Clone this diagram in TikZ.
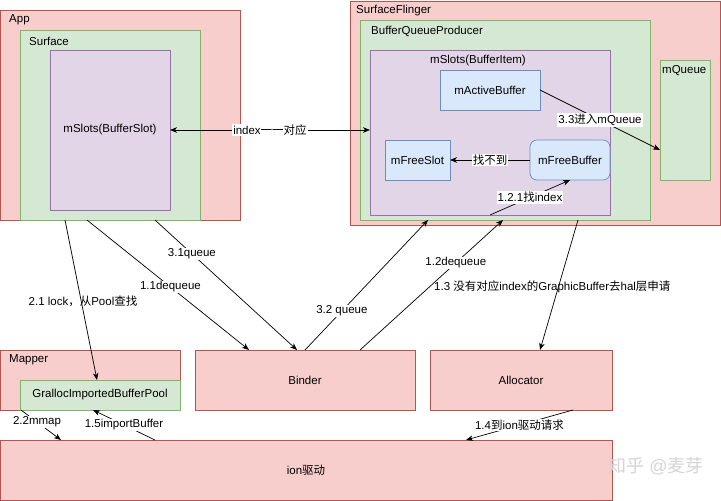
\documentclass[tikz,border=0pt]{standalone}
\usepackage{fontspec}
\setmainfont{Liberation Sans}
\newfontfamily\zh{Noto Sans CJK SC}
\usetikzlibrary{arrows.meta,calc}
\definecolor{rf}{HTML}{F8CECC}
\definecolor{rs}{HTML}{B85450}
\definecolor{gf}{HTML}{D5E8D4}
\definecolor{gs}{HTML}{82B366}
\definecolor{pf}{HTML}{E1D5E7}
\definecolor{ps}{HTML}{9673A6}
\definecolor{bf}{HTML}{DAE8FC}
\definecolor{bs}{HTML}{6C8EBF}
\begin{document}
\begin{tikzpicture}[x=1pt,y=-1pt,
  font=\fontsize{11.5}{13}\selectfont,
  box/.style={draw, line width=0.7pt, inner sep=0pt, outer sep=0pt, anchor=north west},
  redbox/.style={box, fill=rf, draw=rs},
  greenbox/.style={box, fill=gf, draw=gs},
  purplebox/.style={box, fill=pf, draw=ps},
  bluebox/.style={box, fill=bf, draw=bs},
  ttl/.style={anchor=west, inner sep=0pt},
  arr/.style={-{Stealth[length=7pt,width=5.5pt,inset=2pt]}, line width=0.7pt},
  lbl/.style={fill=white, inner sep=1pt}]
\useasboundingbox (0,0) rectangle (721,501);

% App side
\node[redbox, minimum width=240pt, minimum height=210pt] (app) at (0,10) {};
\node[ttl] (appt) at (9,20) {App};
\node[greenbox, minimum width=180pt, minimum height=190pt] (surface) at (20,30) {};
\node[ttl] (surfacet) at (29,41) {Surface};
\node[purplebox, minimum width=120pt, minimum height=160pt] (bslot) at (50,50) {};
\node (bslott) at (110,130) {mSlots(BufferSlot)};

% SurfaceFlinger side
\node[redbox, minimum width=370pt, minimum height=224pt] (sf) at (350,1) {};
\node[ttl] (sft) at (356,11) {SurfaceFlinger};
\node[greenbox, minimum width=290pt, minimum height=200pt] (bqp) at (360,20) {};
\node[ttl] (bqpt) at (371,31) {BufferQueueProducer};
\node[purplebox, minimum width=240pt, minimum height=165pt] (bitem) at (370,50) {};
\node (bitemt) at (478,61) {mSlots(BufferItem)};
\node[bluebox, minimum width=100pt, minimum height=40pt] (active) at (440,70) {};
\node (activet) at (490,90) {mActiveBuffer};
\node[bluebox, minimum width=65pt, minimum height=40pt] (freeslot) at (385,140) {};
\node (freeslott) at (417.5,160) {mFreeSlot};
\node[bluebox, rounded corners=7pt, minimum width=80pt, minimum height=40pt] (freebuf) at (530,140) {};
\node (freebuft) at (570,160) {mFreeBuffer};
\node[greenbox, minimum width=50pt, minimum height=120pt] (mqueue) at (660,60) {};
\node[ttl] (mqueuet) at (662,71) {mQueue};

% bottom boxes
\node[redbox, minimum width=180pt, minimum height=60pt] (mapper) at (0,350) {};
\node[ttl] (mappert) at (9,360) {Mapper};
\node[greenbox, minimum width=160pt, minimum height=30pt] (gralloc) at (20,380) {};
\node (grallott) at (100,395) {GrallocImportedBufferPool};
\node[redbox, minimum width=220pt, minimum height=60pt] (binder) at (195,350) {};
\node (bindert) at (305,380) {Binder};
\node[redbox, minimum width=182pt, minimum height=60pt] (alloc) at (430,350) {};
\node (alloct) at (521,380) {Allocator};
\node[redbox, minimum width=612pt, minimum height=60pt] (ion) at (0,440) {};
\node (iont) at (306,470) {ion{\zh 驱动}};

% watermark
\node[text=black!17, font=\fontsize{18}{20}\selectfont] (wm) at (656,466) {{\zh 知乎} @{\zh 麦芽}};

% connectors inside SurfaceFlinger
\draw[{Stealth[length=7pt,width=5.5pt,inset=2pt]}-{Stealth[length=7pt,width=5.5pt,inset=2pt]}, line width=0.7pt]
  (bslot.east) -- (bslot.east -| bitem.west)
  node[lbl, midway] {index{\zh 一一对应}};
\draw[arr] (active.east) -- ($(mqueue.north west)!0.75!(mqueue.south west)$)
  node[lbl, pos=0.5] {3.3{\zh 进入}mQueue};
\draw[arr] (freebuf.west) -- (freeslot.east)
  node[lbl, midway] {{\zh 找不到}};
\coordinate (c121) at ($(bitem.south west)+(120,0)$);
\coordinate (c121e) at ($(freebuf.south west)+(40,0)$);
\draw[arr] (c121) -- (c121e) node[lbl, midway] {1.2.1{\zh 找}index};

% App <-> Binder / Mapper
\coordinate (s21) at ($(surface.south west)+(45,0)$);
\coordinate (g21) at ($(gralloc.north west)+(77,0)$);
\draw[arr] (s21) -- (g21);
\node (l21) at (83,301) {2.1 lock{\zh ，从}Pool{\zh 查找}};

\coordinate (s11) at ($(surface.south west)+(67,0)$);
\coordinate (b11) at ($(binder.north west)+(54,0)$);
\draw[arr] (s11) -- (b11) node[lbl, pos=0.515] {1.1dequeue};

\coordinate (s31) at ($(surface.south west)+(135,0)$);
\coordinate (b31) at ($(binder.north west)+(102,0)$);
\draw[arr] (s31) -- (b31) node[lbl, pos=0.26] {3.1queue};

% Binder -> SurfaceFlinger
\coordinate (b32) at ($(binder.north west)+(110,0)$);
\coordinate (q32) at ($(bqp.south west)+(68,0)$);
\draw[arr] (b32) -- (q32) node[lbl, pos=0.3] {3.2 queue};

\coordinate (b12) at ($(binder.north west)+(165,0)$);
\coordinate (q12) at ($(bqp.south west)+(143,0)$);
\draw[arr] (b12) -- (q12) node[lbl, pos=0.67] {1.2dequeue};
\node[ttl] (l13) at (434,287) {1.3 {\zh 没有对应}index{\zh 的}GraphicBuffer{\zh 去}hal{\zh 层申请}};

% SurfaceFlinger -> Allocator
\coordinate (q13) at ($(bqp.south west)+(218,0)$);
\coordinate (a13) at ($(alloc.north west)+(110,0)$);
\draw[arr] (q13) -- (a13);

% Allocator -> ion
\coordinate (a14) at ($(alloc.south west)+(143,0)$);
\coordinate (i14) at ($(ion.north west)+(466,0)$);
\draw[arr] (a14) -- (i14) node[lbl, pos=0.5] {1.4{\zh 到}ion{\zh 驱动请求}};

% Mapper <-> ion
\coordinate (g22) at ($(gralloc.south west)+(1,0)$);
\coordinate (i22) at ($(ion.north west)+(61,0)$);
\draw[arr] (g22) -- (i22) node[lbl, pos=0.4] {2.2mmap};

\coordinate (i15) at ($(ion.north west)+(155,0)$);
\coordinate (g15) at ($(gralloc.south west)+(73,0)$);
\draw[arr] (i15) -- (g15) node[lbl, pos=0.5] {1.5importBuffer};
\end{tikzpicture}
\end{document}
